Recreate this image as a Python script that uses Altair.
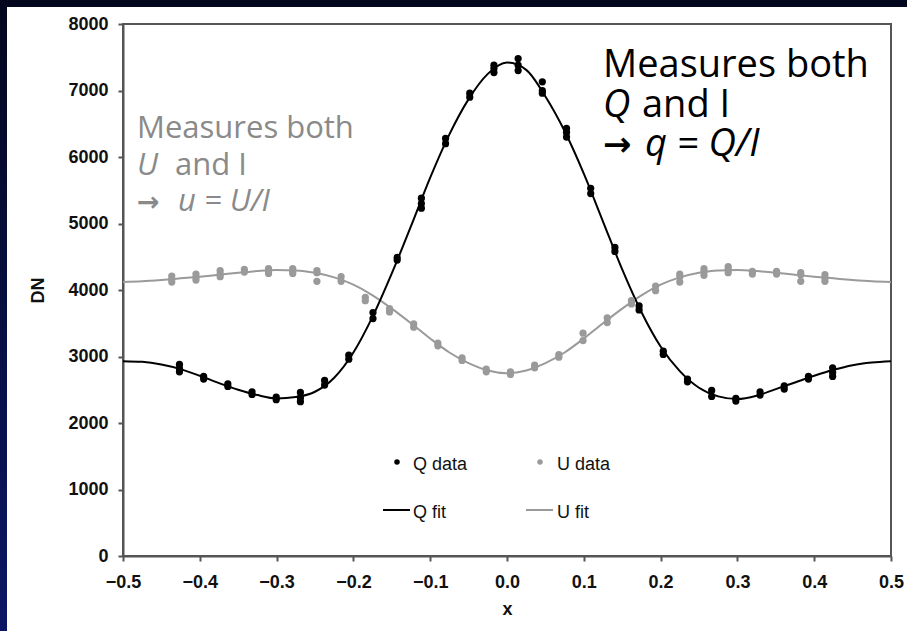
import altair as alt
import pandas as pd

# ---- measured points: Q (black) and U (gray), several repeats per position ----
q_x = [-0.4265, -0.395, -0.3635, -0.332, -0.3005, -0.269, -0.2375, -0.206,
       -0.1745, -0.143, -0.1115, -0.08, -0.0485, -0.017, 0.0145, 0.046,
       0.0775, 0.109, 0.1405, 0.172, 0.2035, 0.235, 0.2665, 0.298,
       0.3295, 0.361, 0.3925, 0.424]
q_vals = [[2880, 2820, 2770], [2700, 2660], [2590, 2550], [2470, 2430],
          [2390, 2350], [2460, 2380, 2320], [2640, 2570], [3020, 2960],
          [3660, 3570], [4490, 4450], [5380, 5300, 5230], [6280, 6200],
          [6960, 6900], [7380, 7330, 7270], [7480, 7380, 7300], [7130, 7000, 6960],
          [6430, 6370, 6300], [5530, 5450], [4640, 4580], [3760, 3700],
          [3080, 3030], [2660, 2620], [2490, 2400], [2370, 2330],
          [2470, 2420], [2560, 2510], [2700, 2660], [2830, 2760, 2700]]

u_x = [-0.4365, -0.405, -0.3735, -0.342, -0.3105, -0.279, -0.2475, -0.216,
       -0.1845, -0.153, -0.1215, -0.09, -0.0585, -0.027, 0.0045, 0.036,
       0.0675, 0.099, 0.1305, 0.162, 0.1935, 0.225, 0.2565, 0.288,
       0.3195, 0.351, 0.3825, 0.414]
u_vals = [[4210, 4160, 4120], [4240, 4190, 4150], [4290, 4240, 4200], [4310, 4270],
          [4320, 4280, 4250], [4320, 4280, 4250], [4290, 4260, 4130], [4200, 4130],
          [3890, 3840], [3720, 3670], [3490, 3440], [3200, 3160],
          [2980, 2940], [2810, 2770], [2770, 2730], [2870, 2830],
          [3030, 2990], [3350, 3240], [3580, 3510], [3840, 3790],
          [4060, 3990], [4240, 4200, 4120], [4320, 4280, 4220], [4350, 4310, 4260],
          [4280, 4240], [4280, 4240], [4260, 4230, 4130], [4230, 4180, 4130]]

# ---- fitted curves ----
fit_x = [-0.5, -0.475, -0.45, -0.425, -0.4, -0.375, -0.35, -0.325, -0.3, -0.275,
         -0.25, -0.225, -0.2, -0.175, -0.15, -0.125, -0.1, -0.075, -0.05, -0.025,
         0.0, 0.025, 0.05, 0.075, 0.1, 0.125, 0.15, 0.175, 0.2, 0.225,
         0.25, 0.275, 0.3, 0.325, 0.35, 0.375, 0.4, 0.425, 0.45, 0.475, 0.5]
q_fit = [2930, 2920, 2880, 2810, 2710, 2600, 2500, 2420, 2370, 2390,
         2470, 2680, 3060, 3600, 4250, 4960, 5690, 6340, 6870, 7250,
         7420, 7310, 6910, 6390, 5750, 5030, 4310, 3670, 3150, 2780,
         2530, 2400, 2360, 2410, 2510, 2610, 2710, 2800, 2870, 2910, 2930]
u_fit = [4120, 4130, 4150, 4175, 4200, 4230, 4260, 4285, 4300, 4295,
         4260, 4190, 4080, 3920, 3720, 3500, 3270, 3060, 2900, 2790,
         2750, 2790, 2900, 3060, 3270, 3500, 3720, 3920, 4080, 4190,
         4260, 4295, 4300, 4285, 4260, 4230, 4200, 4175, 4150, 4130, 4120]

x_ticks = [-0.5, -0.4, -0.3, -0.2, -0.1, 0.0, 0.1, 0.2, 0.3, 0.4, 0.5]
y_ticks = [0, 1000, 2000, 3000, 4000, 5000, 6000, 7000, 8000]

Q_COLOR = "#000000"
U_COLOR = "#9a9a9a"
PLOT_W, PLOT_H = 768, 532


def long_points(xs, vals):
    rows = []
    for x, vs in zip(xs, vals):
        for v in vs:
            rows.append({"x": x, "dn": v})
    return pd.DataFrame(rows)


q_df = long_points(q_x, q_vals)
u_df = long_points(u_x, u_vals)
fit_df = pd.DataFrame({"x": fit_x, "q": q_fit, "u": u_fit})

x_scale = alt.Scale(domain=[-0.5, 0.5], nice=False, zero=False)
y_scale = alt.Scale(domain=[0, 8000], nice=False)

x_axis = alt.Axis(values=x_ticks, format=".1f", title="x", grid=False, labelFlush=False,
                  labelPadding=12, titleY=58, titleBaseline="alphabetic")
y_axis = alt.Axis(values=y_ticks, format="d", title="DN", grid=False, labelFlush=False,
                  labelPadding=10, titleX=-76, titleY=PLOT_H / 2)

X = alt.X("x:Q", scale=x_scale, axis=x_axis)

one = pd.DataFrame({"k": [0]})

# dark page edge (top strip and left strip)
top_band = alt.Chart(one).mark_rect(color="#03071d").encode(
    x=alt.value(-123), x2=alt.value(784), y=alt.value(-24), y2=alt.value(-17))
left_band = alt.Chart(one).mark_rect(
    fill=alt.Gradient(gradient="linear", x1=0, x2=0, y1=0, y2=1,
                      stops=[alt.GradientStop(color="#03071d", offset=0),
                             alt.GradientStop(color="#0b1766", offset=1)])
).encode(x=alt.value(-123), x2=alt.value(-116), y=alt.value(-24), y2=alt.value(612))

q_line = alt.Chart(fit_df).mark_line(color=Q_COLOR, strokeWidth=2, interpolate="monotone").encode(
    x=X, y=alt.Y("q:Q", scale=y_scale, axis=y_axis))
u_line = alt.Chart(fit_df).mark_line(color=U_COLOR, strokeWidth=2, interpolate="monotone").encode(
    x=X, y=alt.Y("u:Q", scale=y_scale, axis=y_axis))

u_pts = alt.Chart(u_df).mark_circle(color=U_COLOR, size=52, opacity=1).encode(
    x=X, y=alt.Y("dn:Q", scale=y_scale, axis=y_axis))
q_pts = alt.Chart(q_df).mark_circle(color=Q_COLOR, size=52, opacity=1).encode(
    x=X, y=alt.Y("dn:Q", scale=y_scale, axis=y_axis))

# legend inside the plot
LEG_FONT = dict(font="Liberation Sans", fontSize=18, align="left", baseline="middle", color="#111111")
leg = [
    alt.Chart(one).mark_circle(color=Q_COLOR, size=30, opacity=1).encode(x=alt.value(274), y=alt.value(438)),
    alt.Chart(one).mark_text(text="Q data", **LEG_FONT).encode(x=alt.value(290), y=alt.value(441)),
    alt.Chart(one).mark_circle(color=U_COLOR, size=30, opacity=1).encode(x=alt.value(417), y=alt.value(438)),
    alt.Chart(one).mark_text(text="U data", **LEG_FONT).encode(x=alt.value(434), y=alt.value(441)),
    alt.Chart(one).mark_rule(color=Q_COLOR, strokeWidth=2).encode(x=alt.value(260), x2=alt.value(287), y=alt.value(486)),
    alt.Chart(one).mark_text(text="Q fit", **LEG_FONT).encode(x=alt.value(290), y=alt.value(489)),
    alt.Chart(one).mark_rule(color=U_COLOR, strokeWidth=2).encode(x=alt.value(403), x2=alt.value(430), y=alt.value(486)),
    alt.Chart(one).mark_text(text="U fit", **LEG_FONT).encode(x=alt.value(434), y=alt.value(489)),
]

# annotations
ANN = "Open Sans"


def label(text, x, y, size, color, italic=False, font=ANN, weight="normal"):
    return alt.Chart(one).mark_text(
        text=text, font=font, fontSize=size, color=color, align="left", baseline="alphabetic",
        fontStyle="italic" if italic else "normal", fontWeight=weight,
    ).encode(x=alt.value(x), y=alt.value(y))


R, RS = "#000000", 38
L, LS = "#8a8a8a", 31
notes = [
    label("Measures both", 480, 53, RS, R),
    label("Q", 480, 93, RS, R, italic=True),
    label("and I", 519, 93, RS, R),
    label("\u2192", 480, 132, RS - 4, R, font="DejaVu Sans", weight="bold"),
    label("q = Q/I", 522, 132, RS, R, italic=True),
    label("Measures both", 14, 114, LS, L),
    label("U", 14, 151, LS, L, italic=True),
    label("and I", 52, 151, LS, L),
    label("\u2192", 14, 187, LS - 4, L, font="DejaVu Sans", weight="bold"),
    label("u = U/I", 55, 187, LS, L, italic=True),
]

chart = alt.layer(
    top_band, left_band, u_line, q_line, u_pts, q_pts, *leg, *notes
).properties(
    width=PLOT_W, height=PLOT_H,
    padding={"left": 123, "top": 24, "right": 16, "bottom": 75},
    autosize=alt.AutoSizeParams(type="none"),
    background="#ffffff",
).configure_view(
    stroke="#555555", strokeWidth=2
).configure_axis(
    domainColor="#555555", domainWidth=2, tickColor="#555555", tickWidth=2, tickSize=5,
    labelFont="Liberation Sans", labelFontSize=18, labelFontWeight="bold", labelColor="#111111",
    titleFont="Liberation Sans", titleFontSize=18, titleFontWeight="bold", titleColor="#111111",
)

chart.save("out.html", embed_options={"renderer": "svg", "actions": False})
